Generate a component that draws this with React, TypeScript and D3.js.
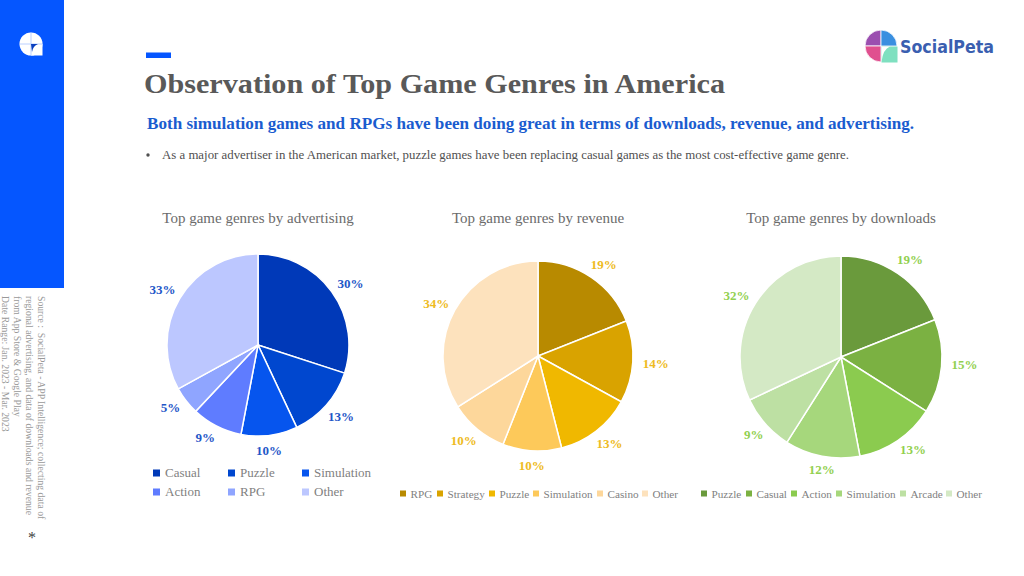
import React from "react";
import * as d3 from "d3";

const adCategories = ["Casual", "Puzzle", "Simulation", "Action", "RPG", "Other"];
const adValues = [30, 13, 10, 9, 5, 33];
const adColors = ["#0039b8", "#0047cf", "#0655ee", "#5f7cff", "#8fa5ff", "#bcc7ff"];

const revCategories = ["RPG", "Strategy", "Puzzle", "Simulation", "Casino", "Other"];
const revValues = [19, 14, 13, 10, 10, 34];
const revColors = ["#b88a00", "#d9a300", "#f0b800", "#fdc95a", "#fdd79b", "#fde2bd"];

const dlCategories = ["Puzzle", "Casual", "Action", "Simulation", "Arcade", "Other"];
const dlValues = [19, 15, 13, 12, 9, 32];
const dlColors = ["#6a9a3c", "#7bb142", "#8bcb4f", "#a6d77c", "#bde0a3", "#d4e9c5"];

const sourceLines = [
  "Source\u00a0:\u00a0 SocialPeta - APP Intelligence; collecting data of",
  "regional advertising, and data of downloads and revenue",
  "from App Store & Google Play",
  "Date Range: Jan. 2023 - Mar. 2023",
];

// hand-placed nudges of the percentage labels away from their slice direction
const adNudges: [number, number][] = [[2, 4], [-1, -3], [-3, -6], [-2, -7], [1, -6], [1, 1]];
const revNudges: [number, number][] = [[1, 4], [3, 0], [1, -3], [1, -5], [-1, -4], [-1, 3]];
const dlNudges: [number, number][] = [[2, 1], [5, -4], [5, -6], [3, -4], [2, -1], [-4, 2]];

const SERIF = "'Liberation Serif', serif";
const GRAY = "#7f7f7f";

type PieProps = {
  title: string; titleX: number; titleY: number;
  cx: number; cy: number; r: number; labelR: number;
  values: number[]; colors: string[]; labelColor: string;
  nudges: [number, number][];
};

function Pie({ title, titleX, titleY, cx, cy, r, labelR, values, colors, labelColor, nudges }: PieProps) {
  const arcs = d3.pie<number>().sort(null)(values);
  const arc = d3.arc<d3.PieArcDatum<number>>().innerRadius(0).outerRadius(r);
  const labelArc = d3.arc<d3.PieArcDatum<number>>().innerRadius(labelR).outerRadius(labelR);
  return (
    <g>
      <text x={titleX} y={titleY} textAnchor="middle" fontSize={15} fill="#6b6b6b">{title}</text>
      <g transform={`translate(${cx},${cy})`}>
        {arcs.map((a, i) => (
          <path key={i} d={arc(a) || ""} fill={colors[i]} stroke="#fff" strokeWidth={1.5} />
        ))}
        {arcs.map((a, i) => {
          const [x, y] = labelArc.centroid(a);
          return (
            <text key={i} x={x + nudges[i][0]} y={y + 4.5 + nudges[i][1]} textAnchor="middle" fontSize={13} fontWeight={700} fill={labelColor}>
              {values[i]}%
            </text>
          );
        })}
      </g>
    </g>
  );
}

function Legend({ items, colors, xs, y, fontSize, gap, size }: { items: string[]; colors: string[]; xs: number[]; y: number; fontSize: number; gap: number; size: number }) {
  return (
    <g>
      {items.map((t, i) => (
        <g key={t}>
          <rect x={xs[i]} y={y - size / 2} width={size} height={size} fill={colors[i]} />
          <text x={xs[i] + gap} y={y + 4} fontSize={fontSize} fill={GRAY}>{t}</text>
        </g>
      ))}
    </g>
  );
}

function Logo({ cx, cy, r }: { cx: number; cy: number; r: number }) {
  const q = d3.arc<any>().innerRadius(0).outerRadius(r);
  const pieces = [
    { s: -Math.PI / 2, e: 0, f: "#9b4fb0" },
    { s: 0, e: Math.PI / 2, f: "#3a8fe0" },
    { s: Math.PI, e: Math.PI * 1.5, f: "#e0508f" },
  ];
  return (
    <g>
      {pieces.map((p, i) => (
        <path key={i} transform={`translate(${cx},${cy})`} fill={p.f} stroke="#fff" strokeWidth={0.8}
          d={q({ startAngle: p.s, endAngle: p.e }) || ""} />
      ))}
      <rect x={cx + 0.5} y={cy + 0.5} width={r} height={r} fill="#7fe0c0" />
      <path d={`M${cx + 0.5} ${cy + 0.5} L${cx + 9} ${cy + 0.5} Q${cx + 2} ${cy + 3} ${cx + 0.5} ${cy + r}Z`} fill="#fff" />
      <text x={cx + 19} y={cy + 7} fontSize={18} fontWeight={700} fill="#3a5fb0"
        fontFamily="'DejaVu Sans', sans-serif" textLength={94} lengthAdjust="spacingAndGlyphs">SocialPeta</text>
    </g>
  );
}

export default function App() {
  return (
    <svg width={1024} height={576} viewBox="0 0 1024 576"
      style={{ position: "absolute", left: 0, top: 0, background: "#fff" }} fontFamily={SERIF}>
      <rect x={0} y={0} width={64} height={288} fill="#0556ff" />
      <g>
        <circle cx={31} cy={44} r={11.5} fill="#fff" />
        <rect x={31} y={44} width={11.5} height={11.5} fill="#fff" />
        <path d="M31 32.5V55.5M19.5 44H42.5" stroke="#a9c4ff" strokeWidth={0.8} />
        <path d="M31 44L38 44Q33 46 32 52Z" fill="#0a3fc0" />
      </g>
      <rect x={146} y={52.5} width={25} height={5.5} fill="#0556ff" />
      <text x={144} y={93} fontSize={27} fontWeight={700} fill="#595959" textLength={581} lengthAdjust="spacingAndGlyphs">Observation of Top Game Genres in America</text>
      <text x={147} y={129} fontSize={16.5} fontWeight={700} fill="#1a5ccf" textLength={767} lengthAdjust="spacingAndGlyphs">Both simulation games and RPGs have been doing great in terms of downloads, revenue, and advertising.</text>
      <circle cx={148} cy={155} r={1.7} fill="#505050" />
      <text x={162} y={159} fontSize={12.5} fill="#505050" textLength={687} lengthAdjust="spacingAndGlyphs">As a major advertiser in the American market, puzzle games have been replacing casual games as the most cost-effective game genre.</text>

      <Logo cx={881} cy={46} r={16} />

      {sourceLines.map((l, i) => (
        <text key={i} transform={`translate(${37.5 - i * 11.9},296) rotate(90)`} fontSize={9.7} fill="#999">{l}</text>
      ))}
      <text x={32} y={543} textAnchor="middle" fontSize={16} fill="#404040">*</text>

      <Pie title="Top game genres by advertising" titleX={258} titleY={223} cx={258} cy={345} r={91} labelR={112}
        values={adValues} colors={adColors} labelColor="#1f57c8" nudges={adNudges} />
      <Pie title="Top game genres by revenue" titleX={538} titleY={223} cx={538} cy={356} r={95} labelR={115}
        values={revValues} colors={revColors} labelColor="#eebb22" nudges={revNudges} />
      <Pie title="Top game genres by downloads" titleX={841} titleY={223} cx={841} cy={357} r={101} labelR={119}
        values={dlValues} colors={dlColors} labelColor="#92d050" nudges={dlNudges} />

      <Legend items={adCategories.slice(0, 3)} colors={adColors.slice(0, 3)} xs={[153, 228, 302]} y={473} fontSize={13} gap={12} size={7} />
      <Legend items={adCategories.slice(3)} colors={adColors.slice(3)} xs={[153, 228, 302]} y={492} fontSize={13} gap={12} size={7} />
      <Legend items={revCategories} colors={revColors} xs={[400, 437, 489, 533, 597, 642]} y={493.5} fontSize={11.2} gap={10.5} size={6} />
      <Legend items={dlCategories} colors={dlColors} xs={[701, 746, 791, 836, 900, 946]} y={493.5} fontSize={11.2} gap={10.5} size={6} />
    </svg>
  );
}
